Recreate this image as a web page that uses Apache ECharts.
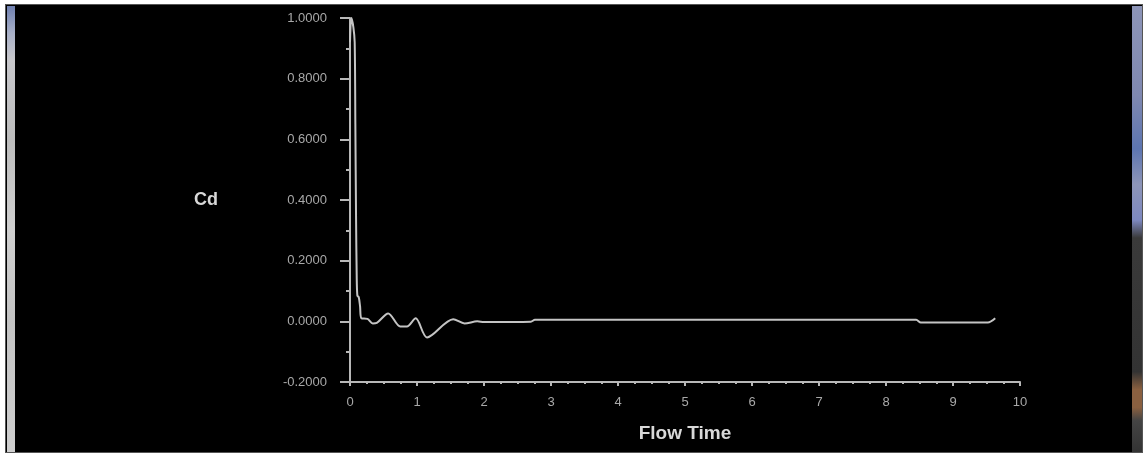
<!DOCTYPE html>
<html>
<head>
<meta charset="utf-8">
<script src="https://cdn.jsdelivr.net/npm/echarts@6/dist/echarts.min.js"></script>
<style>
  html, body { margin: 0; padding: 0; background: #ffffff; }
  #frame { position: absolute; left: 5px; top: 4px; width: 1138px; height: 449px; background: #000; border: 1px solid #555; box-sizing: border-box; }
  #lstrip { position: absolute; left: 7px; top: 6px; width: 8px; height: 446px;
    background: linear-gradient(to bottom, #6f80b0 0%, #a8b0c8 6%, #c8c8cc 12%, #bdbdbd 30%, #d0d0d0 50%, #c4c4c4 70%, #cfcfcf 100%); }
  #rstrip { position: absolute; left: 1132px; top: 6px; width: 10px; height: 446px;
    background: linear-gradient(to bottom, #8d95b8 0%, #7f88b0 20%, #5d75b0 32%, #8d95b8 40%, #7d88c0 48%, #3a3a3a 52%, #333 82%, #8a6040 86%, #8a6040 90%, #444 93%, #333 100%); }
  #chart { position: absolute; left: 0; top: 0; width: 1147px; height: 456px; }
</style>
</head>
<body>
<div id="frame"></div>
<div id="lstrip"></div>
<div id="rstrip"></div>
<div id="chart"></div>
<script>
// Flow time (s)
const flowTime = [0.00, 0.02, 0.05, 0.07, 0.08, 0.09, 0.10, 0.11, 0.13, 0.15, 0.17, 0.26, 0.34, 0.40, 0.57, 0.75, 0.85, 0.98, 1.15, 1.54, 1.71, 1.90, 2.00, 2.70, 2.76, 8.45, 8.52, 9.52, 9.63];
// Drag coefficient Cd
const cd = [0.92, 1.00, 0.97, 0.92, 0.65, 0.35, 0.15, 0.085, 0.08, 0.05, 0.010, 0.008, -0.007, -0.005, 0.026, -0.017, -0.017, 0.010, -0.053, 0.007, -0.007, 0.000, -0.002, -0.001, 0.005, 0.005, -0.004, -0.004, 0.010];
const xTicks = [0, 1, 2, 3, 4, 5, 6, 7, 8, 9, 10];
const yTicks = [-0.2, 0.0, 0.2, 0.4, 0.6, 0.8, 1.0];

const chart = echarts.init(document.getElementById('chart'));
const lineCol = '#c4c4c4';
const axisCol = '#b8b8b8';
const ff = 'Liberation Sans, Arial, sans-serif';
chart.setOption({
  backgroundColor: 'transparent',
  animation: false,
  grid: { left: 350, right: 127, top: 18, bottom: 74, containLabel: false },
  xAxis: {
    type: 'value',
    min: xTicks[0], max: xTicks[xTicks.length - 1], interval: 1,
    name: 'Flow Time', nameLocation: 'middle', nameGap: 42,
    nameTextStyle: { color: '#d8d8d8', fontSize: 19, fontWeight: 'bold', fontFamily: ff },
    axisLine: { onZero: false, lineStyle: { color: axisCol, width: 2 } },
    axisTick: { show: true, length: 4, inside: false, lineStyle: { color: axisCol, width: 2 } },
    minorTick: { show: true, splitNumber: 4, length: 2, lineStyle: { color: axisCol, width: 2 } },
    splitLine: { show: false },
    axisLabel: { color: '#a8a8a8', fontSize: 13, margin: 14, fontFamily: ff,
      formatter: v => String(v) }
  },
  yAxis: {
    type: 'value',
    min: yTicks[0], max: yTicks[yTicks.length - 1], interval: 0.2,
    name: 'Cd', nameLocation: 'middle', nameRotate: 0, nameGap: 132,
    nameTextStyle: { color: '#d8d8d8', fontSize: 18, fontWeight: 'bold', fontFamily: ff },
    axisLine: { show: true, onZero: false, lineStyle: { color: axisCol, width: 2 } },
    axisTick: { show: true, length: 10, inside: false, lineStyle: { color: axisCol, width: 2 } },
    minorTick: { show: true, splitNumber: 2, length: 4, lineStyle: { color: axisCol, width: 2 } },
    splitLine: { show: false },
    axisLabel: { color: '#a8a8a8', fontSize: 13, margin: 23, fontFamily: ff,
      formatter: v => v.toFixed(4) }
  },
  series: [{
    type: 'line',
    data: flowTime.map((t, i) => [t, cd[i]]),
    showSymbol: false,
    smooth: 0.3,
    lineStyle: { color: lineCol, width: 2 },
    z: 3
  }]
});
</script>
</body>
</html>
